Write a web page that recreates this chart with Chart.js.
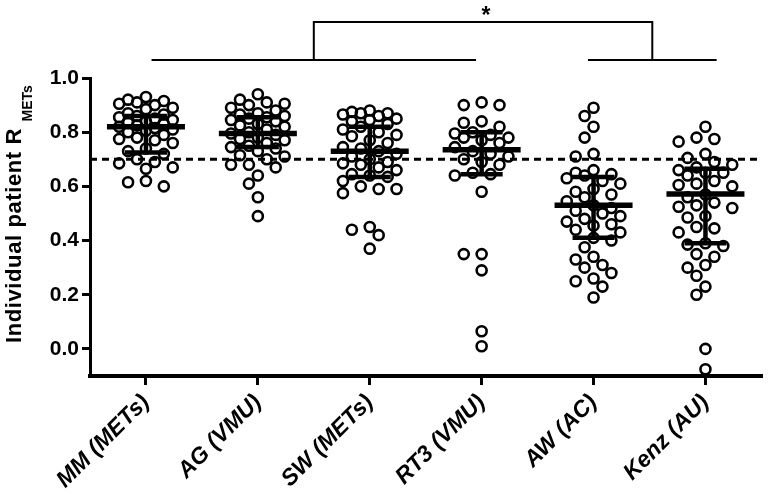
<!DOCTYPE html>
<html>
<head>
<meta charset="utf-8">
<script src="https://cdn.jsdelivr.net/npm/chart.js@4"></script>
<style>
  html, body { margin: 0; padding: 0; background: #fff; }
  #wrap { width: 769px; height: 495px; }
</style>
</head>
<body>
<div id="wrap"><canvas id="chart"></canvas></div>
<script>
const categories = ['MM (METs)', 'AG (VMU)', 'SW (METs)', 'RT3 (VMU)', 'AW (AC)', 'Kenz (AU)'];

const mmValues = [0.93, 0.92, 0.915, 0.91, 0.905, 0.90, 0.89, 0.885, 0.87, 0.865, 0.86, 0.855, 0.85, 0.845, 0.84, 0.835, 0.83, 0.825, 0.82, 0.815, 0.81, 0.805, 0.80, 0.79, 0.78, 0.775, 0.77, 0.76, 0.74, 0.73, 0.72, 0.70, 0.69, 0.685, 0.67, 0.665, 0.62, 0.615, 0.60];
const agValues = [0.94, 0.92, 0.91, 0.905, 0.90, 0.89, 0.88, 0.87, 0.865, 0.86, 0.855, 0.85, 0.845, 0.84, 0.83, 0.825, 0.82, 0.81, 0.80, 0.795, 0.79, 0.78, 0.775, 0.77, 0.76, 0.75, 0.745, 0.74, 0.73, 0.715, 0.71, 0.70, 0.68, 0.68, 0.67, 0.64, 0.61, 0.56, 0.49];
const swValues = [0.88, 0.875, 0.87, 0.87, 0.865, 0.86, 0.85, 0.845, 0.84, 0.83, 0.82, 0.81, 0.80, 0.79, 0.785, 0.77, 0.76, 0.745, 0.74, 0.73, 0.72, 0.71, 0.70, 0.69, 0.685, 0.68, 0.67, 0.66, 0.645, 0.64, 0.635, 0.62, 0.60, 0.59, 0.59, 0.575, 0.45, 0.44, 0.42, 0.37];
const rt3Values = [0.91, 0.90, 0.90, 0.84, 0.835, 0.82, 0.80, 0.795, 0.79, 0.78, 0.78, 0.77, 0.76, 0.745, 0.73, 0.72, 0.71, 0.70, 0.69, 0.68, 0.65, 0.645, 0.64, 0.58, 0.35, 0.35, 0.29, 0.065, 0.01];
const awValues = [0.89, 0.86, 0.82, 0.78, 0.72, 0.71, 0.66, 0.65, 0.645, 0.64, 0.63, 0.62, 0.61, 0.59, 0.58, 0.57, 0.56, 0.545, 0.53, 0.52, 0.51, 0.50, 0.49, 0.48, 0.47, 0.46, 0.455, 0.44, 0.43, 0.41, 0.40, 0.375, 0.34, 0.33, 0.31, 0.30, 0.28, 0.26, 0.25, 0.23, 0.19];
const kenzValues = [0.82, 0.78, 0.775, 0.765, 0.72, 0.705, 0.69, 0.68, 0.67, 0.66, 0.65, 0.65, 0.64, 0.62, 0.61, 0.605, 0.60, 0.57, 0.56, 0.54, 0.53, 0.525, 0.52, 0.49, 0.485, 0.45, 0.445, 0.43, 0.39, 0.385, 0.38, 0.35, 0.34, 0.31, 0.30, 0.27, 0.23, 0.20, 0.0, -0.075];

// central line and interquartile range per group
const centerValues = [0.82, 0.795, 0.73, 0.735, 0.53, 0.572];
const upperValues = [0.86, 0.855, 0.82, 0.80, 0.635, 0.665];
const lowerValues = [0.725, 0.745, 0.635, 0.645, 0.41, 0.39];

const yTicks = [0, 0.2, 0.4, 0.6, 0.8, 1.0];
const refLine = 0.7;

const groups = [mmValues, agValues, swValues, rt3Values, awValues, kenzValues];

// simple beeswarm so the dots spread sideways like the original
function swarm(values, gi) {
  const pxX = 112.7, pxY = 271, minDist = 12;
  const steps = [0, -9, 9, -18, 18, -27, 27];
  const placed = [];
  values.slice().sort((a, b) => b - a).forEach(v => {
    const yy = v * pxY;
    let best = 0, bestD = -1;
    for (const dx of steps) {
      let d = Infinity;
      placed.forEach(p => { d = Math.min(d, Math.hypot(p.dx - dx, p.y - yy)); });
      if (d >= minDist) { best = dx; bestD = d; break; }
      if (d > bestD) { bestD = d; best = dx; }
    }
    placed.push({ dx: best, y: yy });
  });
  return placed.map(p => ({ x: gi + p.dx / pxX, y: p.y / pxY }));
}

const FONT = '"Liberation Sans", Arial, sans-serif';

const overlay = {
  id: 'overlay',
  afterDatasetsDraw(chart) {
    const { ctx, chartArea, scales: { x, y } } = chart;
    const line = (x1, y1, x2, y2) => { ctx.beginPath(); ctx.moveTo(x1, y1); ctx.lineTo(x2, y2); ctx.stroke(); };
    ctx.save();
    ctx.strokeStyle = '#000';
    ctx.lineWidth = 3;
    ctx.setLineDash([7, 5]);
    const yr = y.getPixelForValue(refLine);
    line(chartArea.left, yr, chartArea.right, yr);
    ctx.setLineDash([]);
    categories.forEach((c, i) => {
      const cx = x.getPixelForValue(i);
      const yc = y.getPixelForValue(centerValues[i]);
      const yu = y.getPixelForValue(upperValues[i]);
      const yl = y.getPixelForValue(lowerValues[i]);
      ctx.lineWidth = 5.5;
      line(cx - 39, yc, cx + 39, yc);
      ctx.lineWidth = 4.5;
      line(cx, yu, cx, yl);
      line(cx - 21, yu, cx + 21, yu);
      line(cx - 21, yl, cx + 21, yl);
    });
    ctx.restore();
  },
  afterDraw(chart) {
    const { ctx, chartArea, scales: { x } } = chart;
    const line = (x1, y1, x2, y2) => { ctx.beginPath(); ctx.moveTo(x1, y1); ctx.lineTo(x2, y2); ctx.stroke(); };
    ctx.save();
    // significance bracket
    ctx.strokeStyle = '#000';
    ctx.lineWidth = 2;
    const yLow = chartArea.top - 18, yTop = chartArea.top - 56;
    const l1 = x.getPixelForValue(0.05), l2 = x.getPixelForValue(2.95);
    const r1 = x.getPixelForValue(3.95), r2 = x.getPixelForValue(5.1);
    const lm = (l1 + l2) / 2, rm = (r1 + r2) / 2;
    line(l1, yLow, l2, yLow);
    line(r1, yLow, r2, yLow);
    ctx.beginPath();
    ctx.moveTo(lm, yLow); ctx.lineTo(lm, yTop); ctx.lineTo(rm, yTop); ctx.lineTo(rm, yLow);
    ctx.stroke();
    ctx.fillStyle = '#000';
    ctx.font = 'bold 23px ' + FONT;
    ctx.textAlign = 'center';
    ctx.textBaseline = 'alphabetic';
    ctx.fillText('*', (lm + rm) / 2 + 3, 23);

    // y axis title with subscript
    ctx.translate(21, 343);
    ctx.rotate(-Math.PI / 2);
    ctx.textAlign = 'left';
    ctx.font = 'bold 22px ' + FONT;
    ctx.letterSpacing = '0.6px';
    const main = 'Individual patient R';
    ctx.fillText(main, 0, 0);
    const w = ctx.measureText(main + ' ').width;
    ctx.font = 'bold 14px ' + FONT;
    ctx.letterSpacing = '0px';
    ctx.fillText('METs', w, 11);
    ctx.restore();
  }
};

new Chart(document.getElementById('chart'), {
  type: 'scatter',
  data: {
    datasets: groups.map((vals, i) => ({
      label: categories[i],
      data: swarm(vals, i),
      pointStyle: 'circle',
      pointRadius: 5,
      pointHoverRadius: 5,
      pointBorderWidth: 2.6,
      borderColor: '#000',
      backgroundColor: 'rgba(0,0,0,0)',
    })),
  },
  options: {
    responsive: true,
    maintainAspectRatio: false,
    animation: false,
    events: [],
    layout: { padding: { top: 78, right: 3, left: 0, bottom: 0 } },
    plugins: { legend: { display: false }, tooltip: { enabled: false } },
    scales: {
      x: {
        type: 'linear',
        min: -0.5,
        max: 5.5,
        afterBuildTicks: s => { s.ticks = categories.map((c, i) => ({ value: i })); },
        afterFit: s => { s.height = 119; s.paddingLeft = 0; s.paddingRight = 0; },
        ticks: {
          callback: (v, i) => categories[i],
          autoSkip: false,
          minRotation: 45,
          maxRotation: 45,
          padding: 4,
          color: '#000',
          font: { family: FONT, size: 23, weight: 'bold', style: 'italic' },
        },
        grid: { drawOnChartArea: false, drawTicks: true, tickLength: 9, color: '#000', lineWidth: 3 },
        border: { display: true, color: '#000', width: 4 },
      },
      y: {
        min: -0.1,
        max: 1.0,
        afterBuildTicks: s => { s.ticks = yTicks.map(v => ({ value: v })); },
        afterFit: s => { s.width = 90; s.paddingTop = 0; s.paddingBottom = 0; },
        ticks: {
          callback: v => v.toFixed(1),
          padding: 3,
          color: '#000',
          font: { family: FONT, size: 21, weight: 'bold' },
        },
        grid: { drawOnChartArea: false, drawTicks: true, tickLength: 8, color: '#000', lineWidth: 3 },
        border: { display: true, color: '#000', width: 3 },
      },
    },
  },
  plugins: [overlay],
});
</script>
</body>
</html>
